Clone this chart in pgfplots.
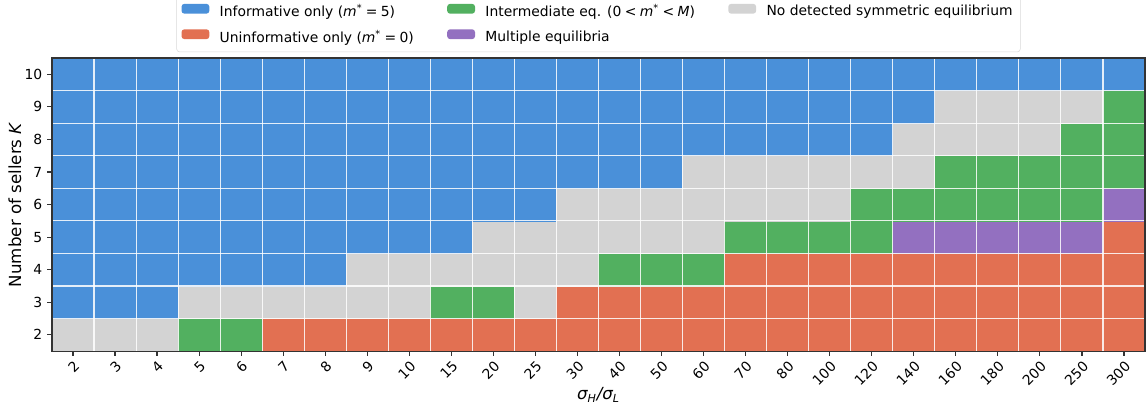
\documentclass[border=0pt]{standalone}
\usepackage{fontspec}
\setmainfont{DejaVu Sans}
\usepackage{pgfplots}
\usepackage{pgfplotstable}
\pgfplotsset{compat=1.18}
\definecolor{cblue}{RGB}{74,144,217}
\definecolor{cred}{RGB}{226,112,82}
\definecolor{cgreen}{RGB}{82,176,96}
\definecolor{cpurple}{RGB}{147,112,192}
\definecolor{cgray}{RGB}{211,211,211}
% category codes: 0 informative, 1 uninformative, 2 intermediate, 3 multiple, 4 none
\pgfplotstableread{
x y c
0 2 4
1 2 4
2 2 4
3 2 2
4 2 2
5 2 1
6 2 1
7 2 1
8 2 1
9 2 1
10 2 1
11 2 1
12 2 1
13 2 1
14 2 1
15 2 1
16 2 1
17 2 1
18 2 1
19 2 1
20 2 1
21 2 1
22 2 1
23 2 1
24 2 1
25 2 1
0 3 0
1 3 0
2 3 0
3 3 4
4 3 4
5 3 4
6 3 4
7 3 4
8 3 4
9 3 2
10 3 2
11 3 4
12 3 1
13 3 1
14 3 1
15 3 1
16 3 1
17 3 1
18 3 1
19 3 1
20 3 1
21 3 1
22 3 1
23 3 1
24 3 1
25 3 1
0 4 0
1 4 0
2 4 0
3 4 0
4 4 0
5 4 0
6 4 0
7 4 4
8 4 4
9 4 4
10 4 4
11 4 4
12 4 4
13 4 2
14 4 2
15 4 2
16 4 1
17 4 1
18 4 1
19 4 1
20 4 1
21 4 1
22 4 1
23 4 1
24 4 1
25 4 1
0 5 0
1 5 0
2 5 0
3 5 0
4 5 0
5 5 0
6 5 0
7 5 0
8 5 0
9 5 0
10 5 4
11 5 4
12 5 4
13 5 4
14 5 4
15 5 4
16 5 2
17 5 2
18 5 2
19 5 2
20 5 3
21 5 3
22 5 3
23 5 3
24 5 3
25 5 1
0 6 0
1 6 0
2 6 0
3 6 0
4 6 0
5 6 0
6 6 0
7 6 0
8 6 0
9 6 0
10 6 0
11 6 0
12 6 4
13 6 4
14 6 4
15 6 4
16 6 4
17 6 4
18 6 4
19 6 2
20 6 2
21 6 2
22 6 2
23 6 2
24 6 2
25 6 3
0 7 0
1 7 0
2 7 0
3 7 0
4 7 0
5 7 0
6 7 0
7 7 0
8 7 0
9 7 0
10 7 0
11 7 0
12 7 0
13 7 0
14 7 0
15 7 4
16 7 4
17 7 4
18 7 4
19 7 4
20 7 4
21 7 2
22 7 2
23 7 2
24 7 2
25 7 2
0 8 0
1 8 0
2 8 0
3 8 0
4 8 0
5 8 0
6 8 0
7 8 0
8 8 0
9 8 0
10 8 0
11 8 0
12 8 0
13 8 0
14 8 0
15 8 0
16 8 0
17 8 0
18 8 0
19 8 0
20 8 4
21 8 4
22 8 4
23 8 4
24 8 2
25 8 2
0 9 0
1 9 0
2 9 0
3 9 0
4 9 0
5 9 0
6 9 0
7 9 0
8 9 0
9 9 0
10 9 0
11 9 0
12 9 0
13 9 0
14 9 0
15 9 0
16 9 0
17 9 0
18 9 0
19 9 0
20 9 0
21 9 4
22 9 4
23 9 4
24 9 4
25 9 2
0 10 0
1 10 0
2 10 0
3 10 0
4 10 0
5 10 0
6 10 0
7 10 0
8 10 0
9 10 0
10 10 0
11 10 0
12 10 0
13 10 0
14 10 0
15 10 0
16 10 0
17 10 0
18 10 0
19 10 0
20 10 0
21 10 0
22 10 0
23 10 0
24 10 0
25 10 0
}\datatable
\begin{document}
\begin{tikzpicture}
\begin{axis}[
  scale only axis,
  width=787pt, height=211pt,
  y dir=normal,
  xmin=-0.5, xmax=25.5, ymin=1.5, ymax=10.5,
  xtick={0,...,25},
  xticklabels={2,3,4,5,6,7,8,9,10,15,20,25,30,40,50,60,70,80,100,120,140,160,180,200,250,300},
  ytick={2,...,10},
  minor xtick={0.5,1.5,...,24.5},
  minor ytick={2.5,3.5,...,9.5},
  minor tick length=0pt,
  xminorgrids, yminorgrids,
  minor grid style={white, opacity=0.85, line width=0.75pt},
  axis on top,
  xtick pos=bottom, ytick pos=left,
  tick align=outside,
  major tick length=3.5pt,
  major tick style={black!80, line width=0.8pt},
  axis line style={black!80, line width=0.8pt},
  /pgf/number format/assume math mode=true,
  tick label style={font=\fontsize{10}{12}\selectfont},
  xticklabel style={rotate=45, anchor=north east, inner sep=2pt},
  xlabel={\itshape σ\textsubscript{H}/σ\textsubscript{L}},
  ylabel={Number of sellers \textit{K}},
  every axis y label/.style={at={(axis description cs:-0.0338,0.5)}, rotate=90, anchor=center, font=\fontsize{12}{14}\selectfont},
  every axis x label/.style={at={(axis description cs:0.5,-0.150)}, anchor=center, font=\fontsize{12}{14}\selectfont},
  colormap={cat}{rgb255=(74,144,217) rgb255=(226,112,82) rgb255=(82,176,96) rgb255=(147,112,192) rgb255=(211,211,211)},
  colormap access=direct,
  legend columns=3,
  legend style={at={(0.5,1)}, anchor=south, yshift=4.3pt, font=\fontsize{10}{12}\selectfont,
    draw=black!15, rounded corners=2pt, inner sep=3.5pt, row sep=4pt,
    /tikz/every odd column/.append style={column sep=5.5pt},
    /tikz/every even column/.append style={column sep=22pt}},
  legend cell align=left,
  legend image code/.code={\fill[#1] (0pt,-1.5pt) rectangle (20pt,5.5pt);},
]
\addplot[matrix plot*, mesh/cols=26, point meta=explicit, forget plot]
  table[x=x, y=y, meta=c] {\datatable};
\addlegendimage{fill=cblue, draw=none}
\addlegendentry{Informative only (\textit{m}\textsuperscript{*}\hspace{0.25em}=\hspace{0.25em}5)}
\addlegendimage{fill=cgreen, draw=none}
\addlegendentry{Intermediate eq. (0\hspace{0.25em}<\hspace{0.25em}\textit{m}\textsuperscript{*}\hspace{0.25em}<\hspace{0.25em}\textit{M})}
\addlegendimage{fill=cgray, draw=none}
\addlegendentry{No detected symmetric equilibrium}
\addlegendimage{fill=cred, draw=none}
\addlegendentry{Uninformative only (\textit{m}\textsuperscript{*}\hspace{0.25em}=\hspace{0.25em}0)}
\addlegendimage{fill=cpurple, draw=none}
\addlegendentry{Multiple equilibria}
\end{axis}
\pgfresetboundingbox
\path (current axis.south west) ++(-37.4pt,-41.8pt) coordinate (bbsw);
\path (current axis.north east) ++(0.7pt,41.8pt) coordinate (bbne);
\useasboundingbox (bbsw) rectangle (bbne);
\end{tikzpicture}
\end{document}
